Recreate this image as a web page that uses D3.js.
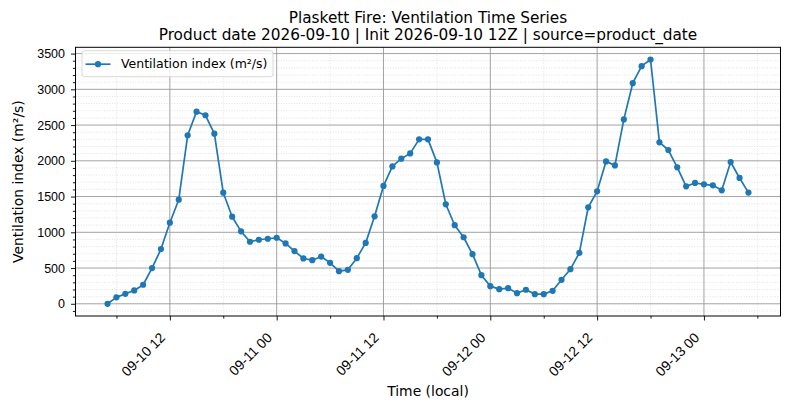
<!DOCTYPE html>
<html>
<head>
<meta charset="utf-8">
<script src="https://cdn.jsdelivr.net/npm/d3@7"></script>
<style>
  body { margin: 0; background: #fff; }
  svg { font-family: "DejaVu Sans", sans-serif; }
</style>
</head>
<body>
<script>
// hourly series, first sample 09-10 05:00 local
var startTime = new Date(2026, 8, 10, 5);
var ventValues = [
  0, 90, 140, 187, 266, 500, 765, 1134, 1456, 2357,
  2688, 2637, 2380, 1554, 1218, 1013, 868, 896, 910, 924,
  845, 737, 634, 610, 661, 573, 456, 475, 638, 852,
  1224, 1648, 1922, 2030, 2104, 2300, 2300, 1978, 1392, 1099,
  931, 694, 400, 247, 205, 219, 149, 196, 135, 135,
  182, 335, 484, 712, 1350, 1573, 1992, 1936, 2579, 3086,
  3324, 3417, 2258, 2151, 1909, 1643, 1690, 1671, 1657, 1587,
  1983, 1760, 1555
];
var yTicks = [0, 500, 1000, 1500, 2000, 2500, 3000, 3500];
var titleLines = [
  'Plaskett Fire: Ventilation Time Series',
  'Product date 2026-09-10 | Init 2026-09-10 12Z | source=product_date'
];
var seriesLabel = 'Ventilation index (m\u00b2/s)';

var W = 790, H = 409;
var margin = {left: 75.5, right: 9.5, top: 47.3, bottom: 93};
var plotW = W - margin.left - margin.right;
var plotH = H - margin.top - margin.bottom;
var BLUE = '#1f77b4';

var data = ventValues.map(function(v, i) {
  return {t: d3.timeHour.offset(startTime, i), v: v};
});

// matplotlib style 5% margins
var tExt = d3.extent(data, function(d) { return d.t; });
var tPad = (tExt[1] - tExt[0]) * 0.05;
var vExt = d3.extent(data, function(d) { return d.v; });
var vPad = (vExt[1] - vExt[0]) * 0.05;

var x = d3.scaleTime()
  .domain([new Date(+tExt[0] - tPad), new Date(+tExt[1] + tPad)])
  .range([0, plotW]);
var y = d3.scaleLinear()
  .domain([vExt[0] - vPad, vExt[1] + vPad])
  .range([plotH, 0]);

var majorX = x.ticks(d3.timeHour.every(12));
var minorX = x.ticks(d3.timeHour.every(6)).filter(function(d) { return d.getHours() % 12 !== 0; });
var minorY = d3.range(-100, 3600, 100).filter(function(v) { return v % 500 !== 0; });

var svg = d3.select('body').append('svg')
  .attr('width', W).attr('height', H);

var g = svg.append('g')
  .attr('transform', 'translate(' + margin.left + ',' + margin.top + ')');

// ---- grid ----
var grid = g.append('g');
grid.selectAll('.mnx').data(minorX).enter().append('line')
  .attr('x1', function(d) { return x(d); }).attr('x2', function(d) { return x(d); })
  .attr('y1', 0).attr('y2', plotH)
  .attr('stroke', '#cfcfcf').attr('stroke-width', 0.6).attr('stroke-dasharray', '1,1.6');
grid.selectAll('.mny').data(minorY).enter().append('line')
  .attr('y1', function(d) { return y(d); }).attr('y2', function(d) { return y(d); })
  .attr('x1', 0).attr('x2', plotW)
  .attr('stroke', '#cfcfcf').attr('stroke-width', 0.6).attr('stroke-dasharray', '1,1.6');
grid.selectAll('.mjx').data(majorX).enter().append('line')
  .attr('x1', function(d) { return x(d); }).attr('x2', function(d) { return x(d); })
  .attr('y1', 0).attr('y2', plotH)
  .attr('stroke', '#999').attr('stroke-width', 0.9);
grid.selectAll('.mjy').data(yTicks).enter().append('line')
  .attr('y1', function(d) { return y(d); }).attr('y2', function(d) { return y(d); })
  .attr('x1', 0).attr('x2', plotW)
  .attr('stroke', '#999').attr('stroke-width', 0.9);

// ---- series ----
var line = d3.line()
  .x(function(d) { return x(d.t); })
  .y(function(d) { return y(d.v); });

g.append('path').datum(data)
  .attr('d', line)
  .attr('fill', 'none')
  .attr('stroke', BLUE)
  .attr('stroke-width', 1.7)
  .attr('stroke-linejoin', 'round');

g.selectAll('.pt').data(data).enter().append('circle')
  .attr('cx', function(d) { return x(d.t); })
  .attr('cy', function(d) { return y(d.v); })
  .attr('r', 3.1)
  .attr('fill', BLUE);

// ---- axes ----
var xAxis = g.append('g')
  .attr('transform', 'translate(0,' + plotH + ')')
  .call(d3.axisBottom(x).tickValues(majorX).tickSize(4.5).tickFormat(d3.timeFormat('%m-%d %H')));
xAxis.select('.domain').remove();
xAxis.selectAll('text')
  .attr('font-size', 13.9)
  .attr('fill', '#000')
  .style('text-anchor', 'end')
  .attr('dy', 0)
  .attr('y', 0)
  .attr('transform', 'translate(-4.3,22.5) rotate(-45)');
g.append('g')
  .attr('transform', 'translate(0,' + plotH + ')')
  .call(d3.axisBottom(x).tickValues(minorX).tickSize(2.6).tickFormat(''))
  .select('.domain').remove();

var yAxis = g.append('g')
  .call(d3.axisLeft(y).tickValues(yTicks).tickSize(4.5).tickPadding(6).tickFormat(d3.format('d')));
yAxis.select('.domain').remove();
yAxis.selectAll('text').attr('font-size', 12.5).attr('fill', '#000');
g.append('g')
  .call(d3.axisLeft(y).tickValues(minorY).tickSize(2.6).tickFormat(''))
  .select('.domain').remove();

g.selectAll('.tick line').attr('stroke', '#000').attr('stroke-width', 0.9);

// frame
g.append('rect')
  .attr('width', plotW).attr('height', plotH)
  .attr('fill', 'none').attr('stroke', '#000').attr('stroke-width', 1);

// ---- legend ----
var leg = g.append('g').attr('transform', 'translate(6.5,3.4)');
leg.append('rect')
  .attr('width', 191).attr('height', 26).attr('rx', 2.5)
  .attr('fill', 'white').attr('fill-opacity', 0.8)
  .attr('stroke', '#d5d5d5').attr('stroke-width', 0.9);
leg.append('line')
  .attr('x1', 3.5).attr('x2', 28.5).attr('y1', 13.5).attr('y2', 13.5)
  .attr('stroke', BLUE).attr('stroke-width', 1.7);
leg.append('circle').attr('cx', 16).attr('cy', 13.5).attr('r', 3.1).attr('fill', BLUE);
leg.append('text')
  .attr('x', 39).attr('y', 17.8)
  .attr('font-size', 12.5)
  .text(seriesLabel);

// ---- titles / labels ----
var cx = margin.left + plotW / 2;
svg.selectAll('.title').data(titleLines).enter().append('text')
  .attr('x', cx)
  .attr('y', function(d, i) { return 22.7 + i * 17.6; })
  .attr('text-anchor', 'middle')
  .attr('font-size', 15.3)
  .text(function(d) { return d; });

svg.append('text')
  .attr('x', cx).attr('y', 395.5)
  .attr('text-anchor', 'middle')
  .attr('font-size', 13.9)
  .text('Time (local)');

svg.append('text')
  .attr('transform', 'translate(22.5,' + (margin.top + plotH / 2) + ') rotate(-90)')
  .attr('text-anchor', 'middle')
  .attr('font-size', 13.9)
  .text(seriesLabel);
</script>
</body>
</html>
